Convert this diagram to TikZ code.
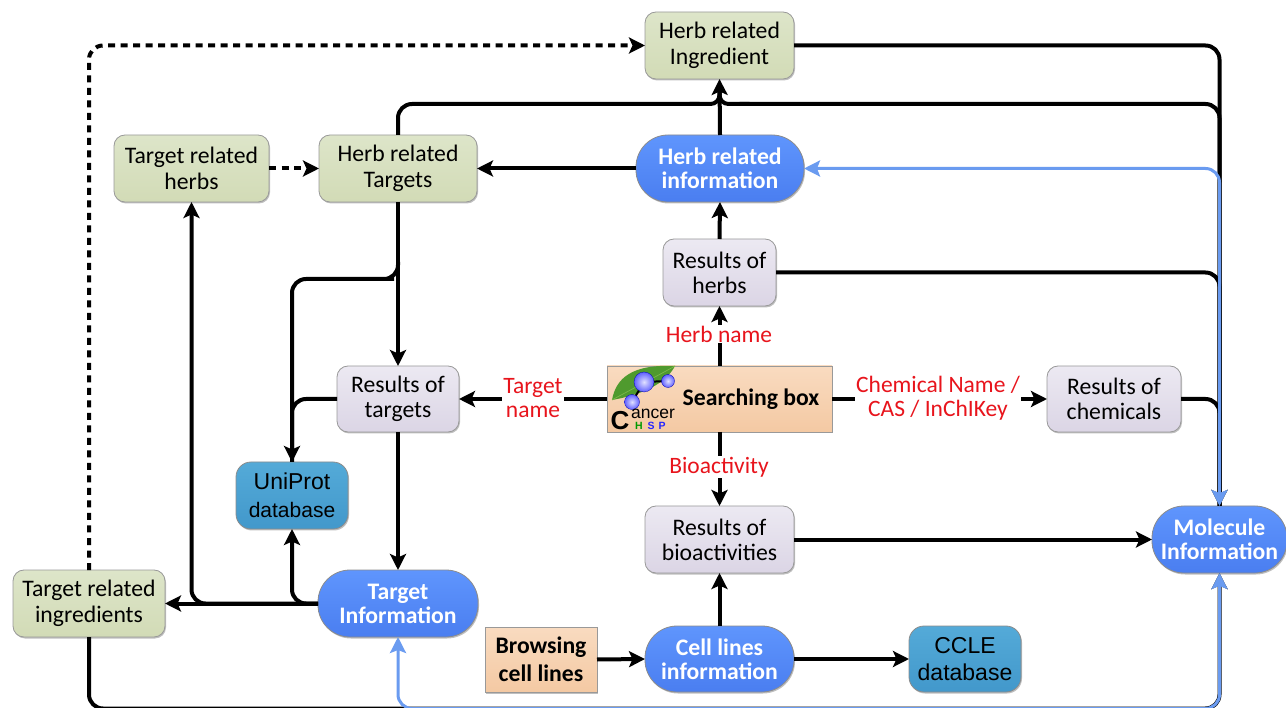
\documentclass[tikz,border=0pt]{standalone}
\usepackage{fontspec}
\setmainfont{Carlito}
\newfontfamily\logofont{Liberation Sans}
\usetikzlibrary{arrows.meta,shadows,calc}
\definecolor{arrowblue}{HTML}{6A9BF0}
\definecolor{redlabel}{HTML}{E8141C}
\definecolor{gtop}{HTML}{DDE5C9}
\definecolor{gbot}{HTML}{D2DBB6}
\definecolor{ptop}{HTML}{ECE9F2}
\definecolor{pbot}{HTML}{DBD5E5}
\definecolor{btop}{HTML}{5F95FD}
\definecolor{bbot}{HTML}{4A7EF0}
\definecolor{ttop}{HTML}{54AAD8}
\definecolor{tbot}{HTML}{4298CB}
\definecolor{otop}{HTML}{F9DBC0}
\definecolor{obot}{HTML}{F4C9A3}
\definecolor{leafdark}{HTML}{4F9A2E}
\definecolor{leaflight}{HTML}{7DB84A}
\tikzset{
  x=1pt,y=-1pt,
  base/.style={align=center,outer sep=0pt,inner sep=0pt,text=black,font=\fontsize{23.7}{25}\selectfont,
    drop shadow={shadow xshift=1pt,shadow yshift=-1.5pt,opacity=.25,fill=black}},
  greenbox/.style={base,draw=black!40,line width=.8pt,rounded corners=11pt,top color=gtop,bottom color=gbot,font=\fontsize{23.7}{26.5}\selectfont},
  purplebox/.style={base,draw=black!40,line width=.8pt,rounded corners=11pt,top color=ptop,bottom color=pbot},
  pill/.style={base,draw=black!45,line width=.8pt,rounded corners=32pt,top color=btop,bottom color=bbot,text=white,font=\fontsize{23.7}{24}\selectfont\bfseries},
  tealbox/.style={base,draw=black!45,line width=.8pt,rounded corners=15pt,top color=ttop,bottom color=tbot},
  orangebox/.style={base,draw=black!40,line width=.8pt,top color=otop,bottom color=obot},
  redtext/.style={align=center,fill=white,inner sep=1pt,text=redlabel,font=\fontsize{23.5}{24.5}\selectfont},
  conn/.style={line width=4pt,black,rounded corners=14pt},
  arr/.style={conn,-{Stealth[length=16pt,width=16pt,inset=3.5pt]}},
  dasharr/.style={arr,dash pattern=on 7pt off 5.5pt},
  bluearr/.style={line width=3pt,arrowblue,rounded corners=14pt,{Stealth[length=16pt,width=16pt,inset=3pt]}-{Stealth[length=16pt,width=16pt,inset=3pt]}},
  ballstyle/.style={inner color=blue!12!white,outer color=blue!62!white,draw=blue!70!black,line width=.3pt},
}
\begin{document}
\begin{tikzpicture}
\useasboundingbox (0,0) rectangle (1286,708);
% nodes
\node[greenbox,minimum width=149pt,minimum height=67pt] (hi) at (719.5,45.5) {Herb related\\Ingredient};
\node[greenbox,minimum width=155pt,minimum height=67pt] (trh) at (191.5,168.5) {Target related\\herbs};
\node[greenbox,minimum width=158pt,minimum height=67pt] (hrt) at (398,168.5) {Herb related\\Targets};
\node[pill,minimum width=168pt,minimum height=67pt] (hri) at (720,168.5) {Herb related\\information};
\node[purplebox,minimum width=113pt,minimum height=67pt] (rh) at (719.5,272.5) {Results of\\herbs};
\node[orangebox,minimum width=225pt,minimum height=66pt] (sb) at (719.5,399) {};
\node[purplebox,minimum width=122pt,minimum height=66pt] (rt) at (398,399) {Results of\\targets};
\node[purplebox,minimum width=134pt,minimum height=66pt] (rc) at (1114,399) {Results of\\chemicals};
\node[tealbox,minimum width=112pt,minimum height=67pt,font=\logofont\fontsize{21}{28}\selectfont] (up) at (292,495.5) {{\fontsize{23}{28}\selectfont UniProt}\\database};
\node[purplebox,minimum width=149pt,minimum height=67pt] (rb) at (719.5,539.5) {Results of\\bioactivities};
\node[pill,minimum width=135pt,minimum height=67pt] (mol) at (1219.5,539.5) {Molecule\\Information};
\node[greenbox,minimum width=152pt,minimum height=67pt] (tri) at (89,603.5) {Target related\\ingredients};
\node[pill,minimum width=160pt,minimum height=67pt] (ti) at (398,603.5) {Target\\Information};
\node[orangebox,minimum width=112pt,minimum height=65pt,font=\fontsize{23.7}{27.5}\selectfont\bfseries] (bc) at (541,659.5) {Browsing\\cell lines};
\node[pill,minimum width=149pt,minimum height=66pt] (cl) at (719.5,659) {Cell lines\\information};
\node[tealbox,minimum width=112pt,minimum height=66pt,font=\logofont\fontsize{23}{26.5}\selectfont] (ccle) at (965,659) {CCLE\\database};
% helper coordinates
\coordinate (bump) at (719.5,92);
\coordinate (topline) at (719.5,104);
\coordinate (bottom) at (700,708.5);
\coordinate (branchL) at (398,262);
\coordinate (branchLb) at (380,279);
% connectors
\draw[dasharr] (trh.east) -- (hrt.west);
\draw[dasharr] (tri.north) |- (hi.west);
\draw[arr] (hri.north) -- (hi.south);
\draw[arr] (hri.west) -- (hrt.east);
\draw[arr] (rh.north) -- (hri.south);
\draw[arr] (sb.north) -- (rh.south);
\draw[arr] (sb.west) -- (rt.east);
\draw[arr] (sb.east) -- (rc.west);
\draw[arr] (sb.south) -- (rb.north);
\draw[arr] (rb.east) -- (mol.west);
\draw[arr] (cl.north) -- (rb.south);
\draw[arr] (bc.east) -- (cl.west);
\draw[arr] (cl.east) -- (ccle.west);
\draw[arr] (hrt.south) -- (rt.north);
\draw[arr] (rt.south) -- (ti.north);
\draw[arr] (ti.west) -- (tri.east);
\draw[arr] (branchL) |- (branchLb) -| (up.north);
\draw[conn] (rt.west) -| (up.north);
\draw[arr] (ti.west) -| (trh.south);
\draw[arr] (ti.west) -| (up.south);
\draw[conn,rounded corners=9pt] (bump) -- (topline) -- ++(30,0);
\draw[conn,rounded corners=9pt] (bump) -- (topline) -- ++(-30,0);
\draw[conn] ($(topline)+(-20,0)$) -| (hrt.north);
\draw[conn] ($(topline)+(20,0)$) -| (mol.north);
\draw[arr] (hi.east) -| (mol.north);
\draw[conn] (rh.east) -| (mol.north);
\draw[conn] (rc.east) -| (mol.north);
\draw[arr] (tri.south) |- (bottom) -| (mol.south);
\draw[bluearr] (hri.east) -| (mol.north);
\draw[bluearr] (ti.south) |- (bottom) -| (mol.south);
% labels
\node[redtext] (l1) at (719,334) {Herb name};
\node[redtext] (l2) at (533,398) {Target\\name};
\node[redtext] (l3) at (938,398) {Chemical Name /\\CAS / InChIKey};
\node[redtext] (l4) at (719,467) {Bioactivity};
% logo and caption of the searching box
\node[inner sep=0pt,font=\fontsize{23.7}{25}\selectfont\bfseries] (sbt) at (751,399) {Searching box};
\fill[leafdark] (612,400) .. controls (616,378) and (632,364) .. (675,366) .. controls (665,385) and (640,395) .. (612,400) -- cycle;
\draw[leaflight,line width=.7pt] (612,400) .. controls (630,390) and (650,380) .. (675,366);
\draw[line width=2pt] (632,402) -- (644,382) -- (668,381);
\shade[ballstyle] (644,382) circle (10);
\shade[ballstyle] (668,381) circle (6.5);
\shade[ballstyle] (632,402) circle (7.5);
\node[anchor=base,inner sep=0pt,font=\logofont\fontsize{26}{26}\selectfont\bfseries] (lc) at (620,430) {C};
\node[anchor=base,inner sep=0pt,font=\logofont\fontsize{17.5}{18}\selectfont] (la) at (653,419) {ancer};
\node[anchor=base,inner sep=0pt,font=\logofont\fontsize{10.5}{11}\selectfont\bfseries,text=green!60!black] (lh) at (639,430) {H};
\node[anchor=base,inner sep=0pt,font=\logofont\fontsize{10.5}{11}\selectfont\bfseries,text=blue!85!white] (ls) at (651,430) {S};
\node[anchor=base,inner sep=0pt,font=\logofont\fontsize{10.5}{11}\selectfont\bfseries,text=blue!85!white] (lp) at (662,430) {P};
\end{tikzpicture}
\end{document}
